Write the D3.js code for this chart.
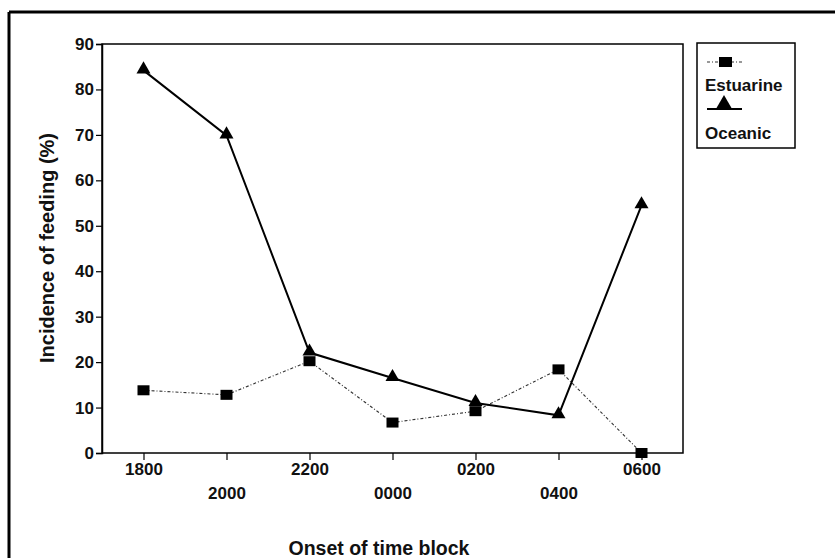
<!DOCTYPE html>
<html><head><meta charset="utf-8">
<script src="https://cdn.jsdelivr.net/npm/d3@7"></script>
<style>body{margin:0;background:#fff}svg{display:block}text{font-family:"Liberation Sans",Arial,sans-serif;font-weight:bold;fill:#111}</style>
</head><body>
<svg id="c" width="835" height="558"></svg>
<script>
const categories = ["1800","2000","2200","0000","0200","0400","0600"];
const estuarine = [13.8, 12.8, 20.2, 6.7, 9.2, 18.4, 0];
const oceanic = [84.2, 69.9, 22.1, 16.5, 11.0, 8.3, 54.5];
const yTicks = [0,10,20,30,40,50,60,70,80,90];

const svg = d3.select("#c");
const L = 102, R = 683, T = 44, B = 453;
const x = d3.scalePoint().domain(categories).range([L, R]).padding(0.5);
const y = d3.scaleLinear().domain([0, 90]).range([B, T]);

// outer frame (top and left)
svg.append("line").attr("x1",9).attr("x2",835).attr("y1",12).attr("y2",12).attr("stroke","#000").attr("stroke-width",3);
svg.append("line").attr("x1",9).attr("x2",9).attr("y1",12).attr("y2",558).attr("stroke","#000").attr("stroke-width",3);

// plot box
svg.append("rect").attr("x",L).attr("y",T).attr("width",R-L).attr("height",B-T).attr("fill","none").attr("stroke","#000").attr("stroke-width",1.5);

// y axis
const ya = svg.append("g").attr("transform",`translate(${L},0)`).call(d3.axisLeft(y).tickValues(yTicks).tickSize(6).tickPadding(2).tickFormat(d3.format("d")));
ya.select(".domain").attr("stroke-width",1.5);
ya.selectAll(".tick line").attr("stroke-width",1.2);
ya.selectAll("text").style("font-size","17px").style("font-family","'Liberation Sans',Arial,sans-serif").style("font-weight","bold").attr("fill","#111");

// x axis
const xa = svg.append("g").attr("transform",`translate(0,${B})`).call(d3.axisBottom(x).tickSize(7).tickPadding(3));
xa.select(".domain").remove();
xa.selectAll(".tick line").attr("stroke-width",1.2);
xa.selectAll("text").style("font-size","17px").style("font-family","'Liberation Sans',Arial,sans-serif").style("font-weight","bold").attr("fill","#111")
  .attr("dy",(d,i)=> i%2===0 ? "0.71em" : "2.1em");

// lines
const line = d3.line().x((d,i)=>x(categories[i])).y(d=>y(d));
svg.append("path").datum(estuarine).attr("d",line).attr("fill","none").attr("stroke","#333").attr("stroke-width",1.1).attr("stroke-dasharray","3,2,1,2");
svg.append("path").datum(oceanic).attr("d",line).attr("fill","none").attr("stroke","#000").attr("stroke-width",2);

// markers
const sq = 12;
svg.selectAll(".sq").data(estuarine).enter().append("rect")
  .attr("x",(d,i)=>x(categories[i])-sq/2).attr("y",d=>y(d)-sq/2+1).attr("width",sq).attr("height",sq-2).attr("fill","#000");
const tri = d3.symbol().type(d3.symbolTriangle).size(85);
svg.selectAll(".tri").data(oceanic).enter().append("path")
  .attr("d",tri).attr("transform",(d,i)=>`translate(${x(categories[i])},${y(d)-1})`).attr("fill","#000");

// axis titles
svg.append("text").attr("transform","translate(54,248) rotate(-90)").attr("text-anchor","middle").style("font-size","20px").text("Incidence of feeding (%)");
svg.append("text").attr("x",379).attr("y",555).attr("text-anchor","middle").style("font-size","19.5px").text("Onset of time block");

// legend
const lg = svg.append("g");
lg.append("rect").attr("x",697).attr("y",43).attr("width",98).attr("height",105).attr("fill","#fff").attr("stroke","#000").attr("stroke-width",1.5);
lg.append("line").attr("x1",707).attr("x2",742).attr("y1",62).attr("y2",62).attr("stroke","#333").attr("stroke-width",1.1).attr("stroke-dasharray","3,2,1,2");
lg.append("rect").attr("x",719).attr("y",57).attr("width",13).attr("height",10).attr("fill","#000");
lg.append("text").attr("x",705).attr("y",91).style("font-size","17px").text("Estuarine");
lg.append("line").attr("x1",707).attr("x2",742).attr("y1",109).attr("y2",109).attr("stroke","#000").attr("stroke-width",2);
lg.append("path").attr("d",d3.symbol().type(d3.symbolTriangle).size(130)).attr("transform","translate(724,105)").attr("fill","#000");
lg.append("text").attr("x",705).attr("y",139).style("font-size","17px").text("Oceanic");
</script>
</body></html>
